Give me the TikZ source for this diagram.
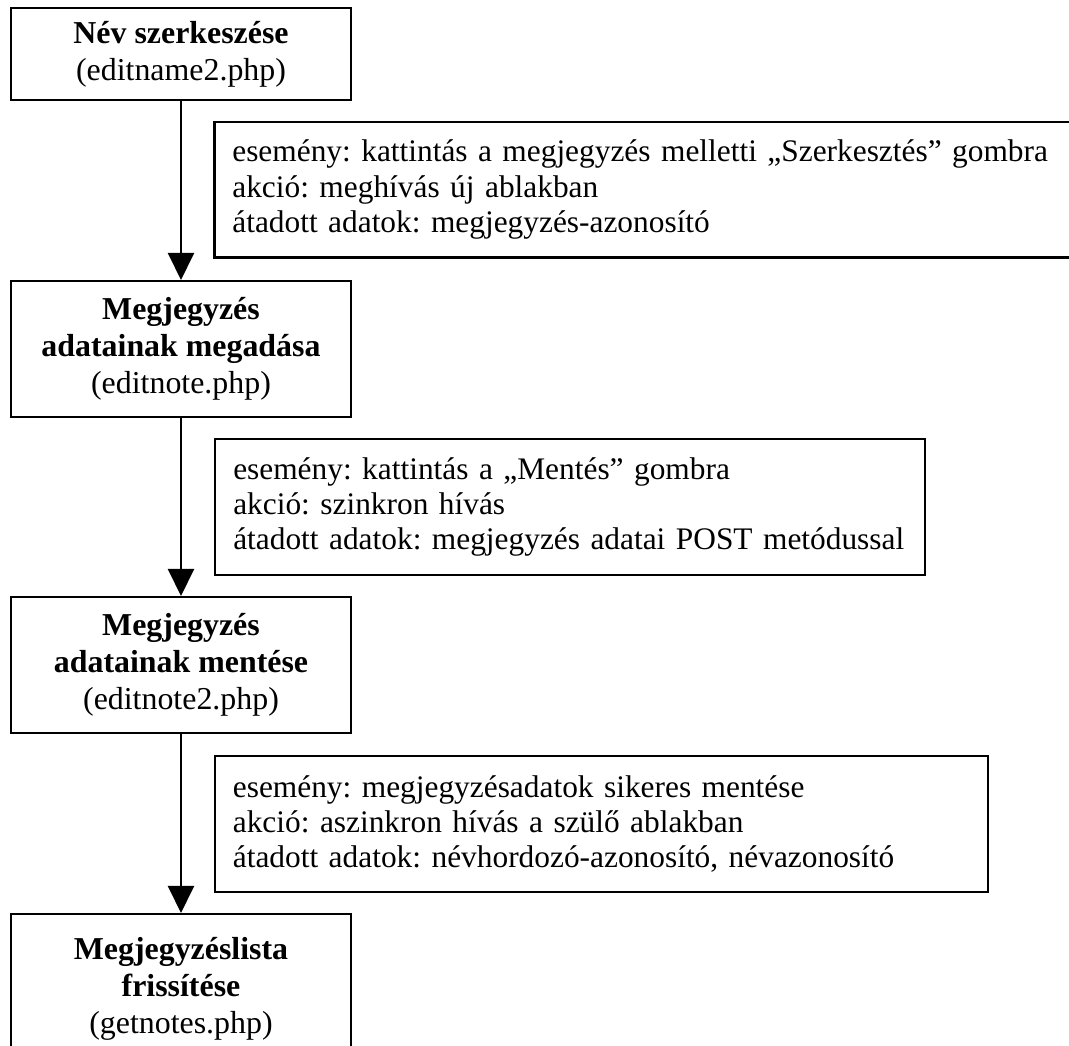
\documentclass[tikz,border=0pt]{standalone}
\usepackage{fontspec}
\setmainfont{Liberation Serif}
\usetikzlibrary{arrows.meta}
\frenchspacing

\tikzset{
  page/.style={x=0.392pt, y=-0.392pt},
  stepbox/.style={draw, line width=0.8pt, minimum width=133.3pt, align=center,
    font=\fontsize{12.5}{14.5}\selectfont, inner sep=0pt},
  infobox/.style={draw, line width=0.8pt, align=left, inner xsep=7pt, inner ysep=0pt,
    minimum height=53.3pt, font=\fontsize{12.3}{13.75}\selectfont},
  flow/.style={line width=0.8pt, -{Triangle[length=10.6pt, width=10.2pt]}}
}

\begin{document}
\begin{tikzpicture}[page]
  \useasboundingbox (0,0) rectangle (1069,1045);

  % program steps
  \node[stepbox, minimum height=36pt] (s1) at (181,54)
    {\textbf{Név szerkeszése}\\(editname2.php)};
  \node[stepbox, minimum height=53.3pt] (s2) at (181,349)
    {\textbf{Megjegyzés}\\\textbf{adatainak megadása}\\(editnote.php)};
  \node[stepbox, minimum height=53.3pt] (s3) at (181,665)
    {\textbf{Megjegyzés}\\\textbf{adatainak mentése}\\(editnote2.php)};
  \node[stepbox, minimum height=58.8pt] (s4) at (181,989)
    {\textbf{Megjegyzéslista}\\\textbf{frissítése}\\(getnotes.php)};

  % transitions
  \draw[flow] (s1.south) -- (s2.north);
  \draw[flow] (s2.south) -- (s3.north);
  \draw[flow] (s3.south) -- (s4.north);

  % transition details
  \node[infobox, text width=329pt] (t1) at (652,189.5)
    {esemény: kattintás a megjegyzés melletti „Szerkesztés” gombra\\
     akció: meghívás új ablakban\\
     átadott adatok: megjegyzés-azonosító};
  \node[infobox, text width=264pt] (t2) at (570,507)
    {esemény: kattintás a „Mentés” gombra\\
     akció: szinkron hívás\\
     \mbox{átadott adatok: megjegyzés adatai POST metódussal}};
  \node[infobox, text width=289pt] (t3) at (601.5,824)
    {esemény: megjegyzésadatok sikeres mentése\\
     akció: aszinkron hívás a szülő ablakban\\
     átadott adatok: névhordozó-azonosító, névazonosító};
\end{tikzpicture}
\end{document}
